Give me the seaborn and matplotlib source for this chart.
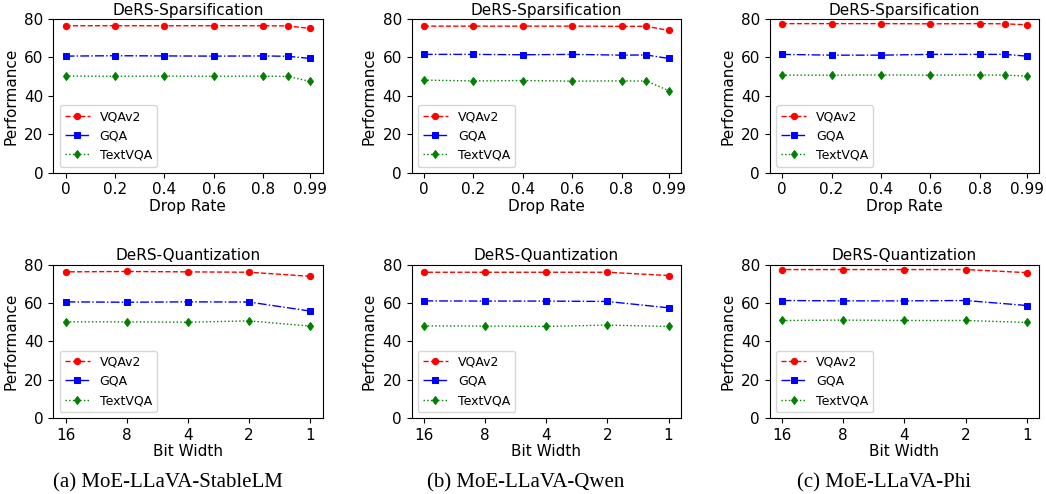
import numpy as np
import pandas as pd
import matplotlib
matplotlib.use('Agg')
import matplotlib.pyplot as plt
import seaborn as sns

# x values
drop_rates = [0, 0.2, 0.4, 0.6, 0.8, 0.9, 0.99]
drop_ticks = [0, 0.2, 0.4, 0.6, 0.8, 0.99]
drop_tick_labels = ['0', '0.2', '0.4', '0.6', '0.8', '0.99']
bit_widths = [16, 8, 4, 2, 1]

models = ['(a) MoE-LLaVA-StableLM', '(b) MoE-LLaVA-Qwen', '(c) MoE-LLaVA-Phi']
datasets = ['VQAv2', 'GQA', 'TextVQA']

# sparsification results (per model)
sp_stablelm_vqa = [76.5, 76.5, 76.5, 76.5, 76.5, 76.4, 75.1]
sp_stablelm_gqa = [60.7, 60.9, 60.8, 60.7, 60.8, 60.6, 59.5]
sp_stablelm_text = [50.3, 50.2, 50.3, 50.2, 50.3, 50.1, 47.5]

sp_qwen_vqa = [76.3, 76.3, 76.3, 76.3, 76.2, 76.2, 74.1]
sp_qwen_gqa = [61.6, 61.6, 61.4, 61.6, 61.2, 61.3, 59.5]
sp_qwen_text = [48.2, 47.8, 48.0, 47.7, 47.8, 47.7, 42.8]

sp_phi_vqa = [77.6, 77.6, 77.6, 77.5, 77.6, 77.5, 77.0]
sp_phi_gqa = [61.6, 61.2, 61.2, 61.6, 61.6, 61.6, 60.7]
sp_phi_text = [50.8, 50.8, 50.9, 50.8, 50.9, 50.8, 50.3]

# quantization results (per model)
qt_stablelm_vqa = [76.2, 76.4, 76.2, 76.0, 73.9]
qt_stablelm_gqa = [60.6, 60.4, 60.6, 60.5, 55.8]
qt_stablelm_text = [50.2, 50.2, 50.0, 50.7, 48.0]

qt_qwen_vqa = [76.0, 76.0, 76.0, 76.0, 74.3]
qt_qwen_gqa = [61.1, 61.0, 61.0, 60.8, 57.5]
qt_qwen_text = [48.1, 48.0, 47.8, 48.5, 47.8]

qt_phi_vqa = [77.4, 77.4, 77.4, 77.4, 75.8]
qt_phi_gqa = [61.3, 61.1, 61.1, 61.3, 58.7]
qt_phi_text = [50.9, 51.1, 50.9, 50.9, 49.9]

sparse = [
    [sp_stablelm_vqa, sp_stablelm_gqa, sp_stablelm_text],
    [sp_qwen_vqa, sp_qwen_gqa, sp_qwen_text],
    [sp_phi_vqa, sp_phi_gqa, sp_phi_text],
]
quant = [
    [qt_stablelm_vqa, qt_stablelm_gqa, qt_stablelm_text],
    [qt_qwen_vqa, qt_qwen_gqa, qt_qwen_text],
    [qt_phi_vqa, qt_phi_gqa, qt_phi_text],
]

styles = {
    'VQAv2': dict(color='red', linestyle='--', marker='o'),
    'GQA': dict(color='blue', linestyle='-.', marker='s'),
    'TextVQA': dict(color='green', linestyle=':', marker='d'),
}

plt.rcParams['font.family'] = ['DejaVu Sans']

fig, axes = plt.subplots(2, 3, figsize=(10.46, 4.94), dpi=100)
fig.subplots_adjust(left=0.051, right=0.9933, top=0.9615, bottom=0.1532,
                    wspace=0.331, hspace=0.597)


def draw(ax, x, series):
    for name, vals in zip(datasets, series):
        df = pd.DataFrame({'x': x, 'y': vals})
        st = styles[name]
        sns.lineplot(data=df, x='x', y='y', ax=ax, label=name,
                     color=st['color'], linestyle=st['linestyle'],
                     marker=st['marker'], markersize=4.5, linewidth=1,
                     markeredgecolor=st['color'])
    ax.set_ylim(0, 80)
    ax.set_yticks([0, 20, 40, 60, 80])
    ax.set_ylabel('Performance', fontsize=11)
    ax.tick_params(labelsize=11)
    ax.legend(loc='lower left', fontsize=9)


for i in range(3):
    ax = axes[0, i]
    draw(ax, drop_rates, sparse[i])
    ax.set_xticks(drop_ticks)
    ax.set_xticklabels(drop_tick_labels)
    ax.set_xlabel('Drop Rate', fontsize=11, labelpad=1)
    ax.set_title('DeRS-Sparsification', fontsize=11, pad=3)

    ax = axes[1, i]
    draw(ax, bit_widths, quant[i])
    ax.set_xscale('log', base=2)
    ax.invert_xaxis()
    ax.set_xticks(bit_widths)
    ax.set_xticklabels([str(b) for b in bit_widths])
    ax.minorticks_off()
    ax.set_xlabel('Bit Width', fontsize=11, labelpad=1)
    ax.set_title('DeRS-Quantization', fontsize=11, pad=3)

cap_x = [168 / 1046, 526 / 1046, 884 / 1046]
for i, m in enumerate(models):
    fig.text(cap_x[i], 1 - 483 / 494, m, ha='center', va='center',
             fontsize=15, family='Liberation Serif')

plt.savefig('out.png', dpi=100)
